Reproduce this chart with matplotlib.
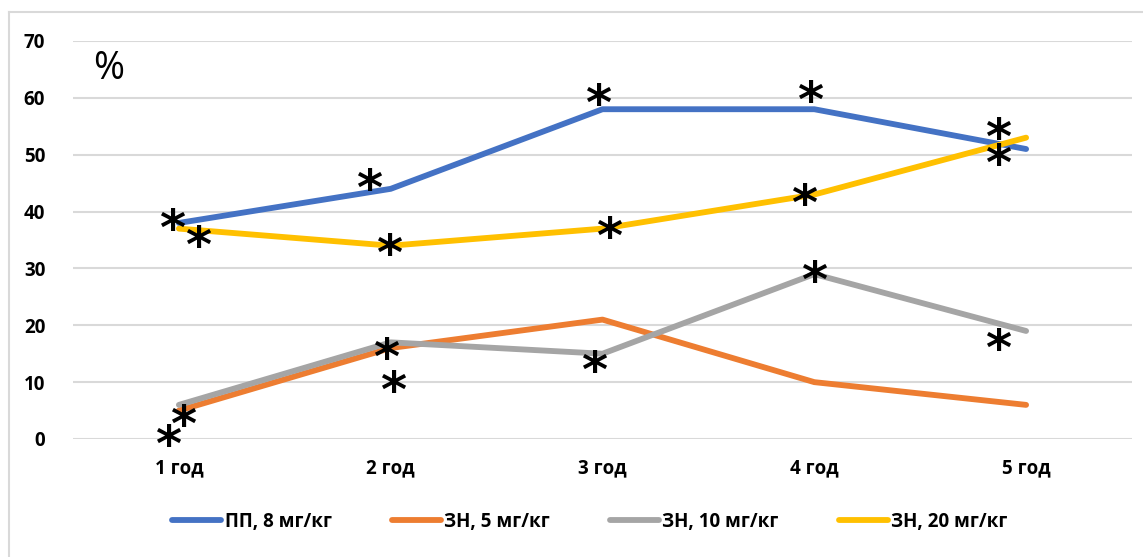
import matplotlib
matplotlib.use("Agg")
import matplotlib.pyplot as plt
from matplotlib.lines import Line2D

categories = ["1 год", "2 год", "3 год", "4 год", "5 год"]
series_names = ["ПП, 8 мг/кг", "ЗН, 5 мг/кг", "ЗН, 10 мг/кг", "ЗН, 20 мг/кг"]
pp8 = [38, 44, 58, 58, 51]
zn5 = [5, 16, 21, 10, 6]
zn10 = [6, 17, 15, 29, 19]
zn20 = [37, 34, 37, 43, 53]
colors = ["#4472C4", "#ED7D31", "#A5A5A5", "#FFC000"]
yticks = [0, 10, 20, 30, 40, 50, 60, 70]

# significance asterisks: (category position, value)
star_x = [-0.03, 0.09, 0.02, -0.05, 0.90, 0.99, 0.98, 1.01, 1.98, 2.03, 1.96,
          2.98, 2.95, 3.00, 3.87, 3.87, 3.87]
star_y = [38.5, 35.5, 3.9, 0.4, 45.4, 34.1, 15.7, 10.0, 60.5, 37.1, 13.4,
          60.9, 42.9, 29.2, 54.5, 49.8, 17.4]

plt.rcParams['font.family'] = ['Open Sans', 'DejaVu Sans']

fig = plt.figure(figsize=(11.43, 5.57), dpi=100)
W, H = 1143, 557
ax = fig.add_axes([73 / W, 1 - 439 / H, (1132 - 73) / W, (439 - 41) / H])

x = list(range(len(categories)))
for vals, c, name in zip([pp8, zn5, zn10, zn20], colors, series_names):
    ax.plot(x, vals, color=c, lw=4.2, solid_capstyle='round', label=name)

for sx, sy in zip(star_x, star_y):
    t = ax.text(sx, sy, "*", fontsize=36, ha='center', va='center',
                family='DejaVu Sans', fontweight='bold', color='black', zorder=5)
    t.set_y(sy - 1.85)

ax.text(-0.33, 65, "%", fontsize=27, ha='center', va='center', color='black')

ax.set_xlim(-0.5, len(categories) - 0.5)
ax.set_ylim(0, 70)
ax.set_yticks(yticks)
ax.set_xticks(x)
ax.set_xticklabels(categories, fontsize=13.5, fontweight='bold')
ax.set_yticklabels([str(v) for v in yticks], fontsize=13.5, fontweight='bold')
ax.tick_params(axis='both', length=0)
ax.tick_params(axis='y', pad=20)
ax.tick_params(axis='x', pad=14)
ax.grid(axis='y', color='#D9D9D9', lw=1.5)
ax.set_axisbelow(True)
for s in ax.spines.values():
    s.set_visible(False)

handles = [Line2D([0], [0], color=c, lw=4.2, solid_capstyle='round') for c in colors]
fig.legend(handles, series_names, loc='center', bbox_to_anchor=(590 / W, 1 - 522 / H),
           ncol=4, frameon=False, handlelength=2.6,
           handletextpad=0.2, columnspacing=3.2, prop={'weight': 'bold', 'size': 13.5})

# outer chart border (light gray)
fig.add_artist(Line2D([9 / W, 9 / W], [0, 1 - 12 / H], color='#D9D9D9', lw=1.5,
                      transform=fig.transFigure))
fig.add_artist(Line2D([9 / W, 1], [1 - 12 / H, 1 - 12 / H], color='#D9D9D9', lw=1.5,
                      transform=fig.transFigure))

fig.savefig("out.png", dpi=100)
